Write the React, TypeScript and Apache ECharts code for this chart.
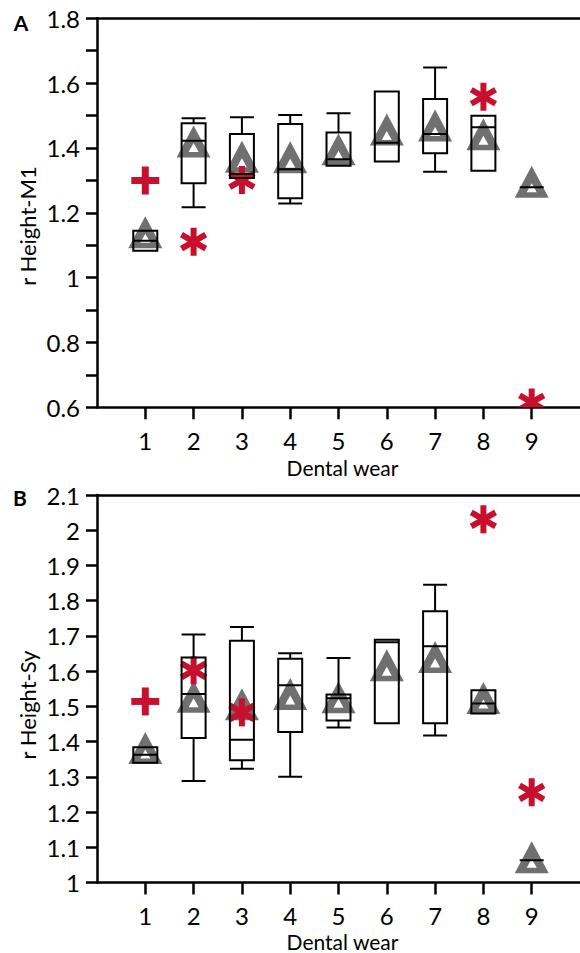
import React, { useEffect, useRef } from 'react';
import * as echarts from 'echarts';

// ---------- data ----------
const wearLevels = [1, 2, 3, 4, 5, 6, 7, 8, 9];

// Panel A: r Height-M1  (min, Q1, median, Q3, max)
const m1Boxes = [
  [1.083, 1.083, 1.114, 1.145, 1.145],
  [1.217, 1.291, 1.422, 1.476, 1.492],
  [1.307, 1.307, 1.32, 1.443, 1.495],
  [1.229, 1.245, 1.334, 1.474, 1.502],
  [1.345, 1.345, 1.365, 1.448, 1.507],
  [1.358, 1.358, 1.416, 1.574, 1.574],
  [1.327, 1.384, 1.443, 1.551, 1.648],
  [1.33, 1.33, 1.464, 1.499, 1.499],
  [1.279, 1.279, 1.279, 1.279, 1.279],
];
const m1Triangles = [1.14, 1.42, 1.373, 1.371, 1.396, 1.457, 1.469, 1.442, 1.296];
const m1CrossX = [1];
const m1CrossY = [1.3];
const m1StarX = [2, 3, 8, 9];
const m1StarY = [1.111, 1.301, 1.558, 0.615];

// Panel B: r Height-Sy
const syBoxes = [
  [1.34, 1.34, 1.363, 1.384, 1.384],
  [1.288, 1.41, 1.535, 1.639, 1.704],
  [1.323, 1.347, 1.405, 1.686, 1.725],
  [1.3, 1.427, 1.56, 1.635, 1.651],
  [1.44, 1.46, 1.523, 1.534, 1.637],
  [1.452, 1.452, 1.682, 1.689, 1.689],
  [1.417, 1.452, 1.671, 1.77, 1.845],
  [1.48, 1.48, 1.508, 1.546, 1.546],
  [1.063, 1.063, 1.063, 1.063, 1.063],
];
const syTriangles = [1.382, 1.527, 1.506, 1.535, 1.526, 1.617, 1.64, 1.524, 1.072];
const syCrossX = [1];
const syCrossY = [1.514];
const syStarX = [2, 3, 8, 9];
const syStarY = [1.602, 1.483, 2.031, 1.256];

// ---------- styles ----------
const GRAY = '#707070';
const RED = '#c8102e';
const FONT = 'Lato';
const AXIS_W = 2.5;

const triRender = (_params: any, api: any) => {
  const p = api.coord([api.value(0), api.value(1)]);
  const w = 34;
  const h = 32;
  const top = p[1] - h / 2;
  return {
    type: 'group',
    children: [
      {
        type: 'polygon',
        shape: { points: [[p[0], top], [p[0] + w / 2, top + h], [p[0] - w / 2, top + h]] },
        style: { fill: GRAY },
      },
      {
        type: 'polygon',
        shape: { points: [[p[0], top + 17.5], [p[0] + 5, top + 26.5], [p[0] - 5, top + 26.5]] },
        style: { fill: '#fff' },
      },
    ],
  };
};

const starRender = (_params: any, api: any) => {
  const p = api.coord([api.value(0), api.value(1)]);
  return {
    type: 'group',
    x: p[0],
    y: p[1],
    children: [0, Math.PI / 3, -Math.PI / 3].map((r) => ({
      type: 'rect',
      shape: { x: -3, y: -14, width: 6, height: 28 },
      rotation: r,
      style: { fill: RED },
    })),
  };
};

const crossRender = (_params: any, api: any) => {
  const p = api.coord([api.value(0), api.value(1)]);
  return {
    type: 'group',
    x: p[0],
    y: p[1],
    children: [
      { type: 'rect', shape: { x: -14, y: -3.5, width: 28, height: 7 }, style: { fill: RED } },
      { type: 'rect', shape: { x: -3.5, y: -14, width: 7, height: 28 }, style: { fill: RED } },
    ],
  };
};

function bottomX(gridIndex: number, nameGap: number) {
  return {
    type: 'value',
    gridIndex,
    min: 0,
    max: 10,
    interval: 1,
    position: 'bottom',
    name: 'Dental wear',
    nameLocation: 'middle',
    nameGap,
    nameTextStyle: { fontFamily: FONT, fontSize: 21, lineHeight: 16, color: '#000', padding: [0, 0, 0, 8] },
    axisLine: { show: true, onZero: false, lineStyle: { color: '#000', width: AXIS_W } },
    axisTick: {
      show: true,
      length: 12,
      customValues: wearLevels,
      lineStyle: { color: '#000', width: AXIS_W },
    },
    axisLabel: {
      show: true,
      customValues: wearLevels,
      margin: 24,
      lineHeight: 18,
      fontFamily: FONT,
      fontSize: 24,
      color: '#000',
    },
    splitLine: { show: false },
  };
}

function topX(gridIndex: number) {
  return {
    type: 'value',
    gridIndex,
    min: 0,
    max: 10,
    interval: 1,
    position: 'top',
    axisLine: { show: true, onZero: false, lineStyle: { color: '#000', width: AXIS_W } },
    axisTick: { show: false },
    axisLabel: { show: false },
    splitLine: { show: false },
  };
}

function leftY(gridIndex: number, min: number, max: number, everyOther: boolean) {
  return {
    type: 'value',
    gridIndex,
    min,
    max,
    interval: 0.1,
    axisLine: { show: true, onZero: false, lineStyle: { color: '#000', width: AXIS_W } },
    axisTick: { show: true, length: 11, lineStyle: { color: '#000', width: AXIS_W } },
    axisLabel: {
      margin: 17,
      fontFamily: FONT,
      fontSize: 24,
      lineHeight: 20,
      color: '#000',
      formatter: (v: number) => {
        const k = Math.round(v * 10);
        if (everyOther && k % 2 !== 0) return '';
        return String(k / 10);
      },
    },
    splitLine: { show: false },
  };
}

function panelSeries(
  axisIdx: number,
  yIdx: number,
  boxes: number[][],
  tri: number[],
  crossX: number[],
  crossY: number[],
  starX: number[],
  starY: number[]
) {
  return [
    {
      type: 'custom',
      xAxisIndex: axisIdx,
      yAxisIndex: yIdx,
      renderItem: triRender,
      data: wearLevels.map((x, i) => [x, tri[i]]),
      clip: true,
      z: 1,
      silent: true,
    },
    {
      type: 'custom',
      xAxisIndex: axisIdx,
      yAxisIndex: yIdx,
      renderItem: crossRender,
      data: crossX.map((x, i) => [x, crossY[i]]),
      clip: true,
      z: 2,
      silent: true,
    },
    {
      type: 'custom',
      xAxisIndex: axisIdx,
      yAxisIndex: yIdx,
      renderItem: starRender,
      data: starX.map((x, i) => [x, starY[i]]),
      clip: true,
      z: 2,
      silent: true,
    },
    {
      type: 'boxplot',
      xAxisIndex: axisIdx,
      yAxisIndex: yIdx,
      boxWidth: [24, 24],
      data: wearLevels.map((x, i) => [x, ...boxes[i]]),
      itemStyle: { color: 'rgba(0,0,0,0)', borderColor: '#000', borderWidth: 2 },
      emphasis: { disabled: true },
      z: 3,
      silent: true,
    },
  ];
}

export default function App() {
  const ref = useRef<HTMLDivElement>(null);

  useEffect(() => {
    if (!ref.current) return;
    const chart = echarts.init(ref.current, undefined, { renderer: 'svg' });
    const option: any = {
      animation: false,
      backgroundColor: '#fff',
      grid: [
        { left: 97, top: 18.3, width: 491.25, height: 389, containLabel: false },
        { left: 97, top: 495, width: 491.25, height: 390.7, containLabel: false },
      ],
      xAxis: [bottomX(0, 52), topX(0), bottomX(1, 51), topX(1)],
      yAxis: [leftY(0, 0.6, 1.8, true), leftY(1, 1, 2.1, false)],
      graphic: [
        {
          type: 'text',
          x: 21,
          y: 22,
          style: { text: 'A', font: `bold 21px ${FONT}`, fill: '#000', align: 'center', verticalAlign: 'middle' },
        },
        {
          type: 'text',
          x: 20,
          y: 497.5,
          style: { text: 'B', font: `bold 21px ${FONT}`, fill: '#000', align: 'center', verticalAlign: 'middle' },
        },
        {
          type: 'text',
          x: 27,
          y: 226,
          rotation: Math.PI / 2,
          style: { text: 'r Height-M1', font: `22px ${FONT}`, fill: '#000', align: 'center', verticalAlign: 'middle' },
        },
        {
          type: 'text',
          x: 27.5,
          y: 705,
          rotation: Math.PI / 2,
          style: { text: 'r Height-Sy', font: `22px ${FONT}`, fill: '#000', align: 'center', verticalAlign: 'middle' },
        },
      ],
      series: [
        ...panelSeries(0, 0, m1Boxes, m1Triangles, m1CrossX, m1CrossY, m1StarX, m1StarY),
        ...panelSeries(2, 1, syBoxes, syTriangles, syCrossX, syCrossY, syStarX, syStarY),
      ],
    };
    chart.setOption(option);
    return () => chart.dispose();
  }, []);

  return (
    <div
      ref={ref}
      style={{ position: 'absolute', left: 0, top: 0, width: 580, height: 953 }}
    />
  );
}
